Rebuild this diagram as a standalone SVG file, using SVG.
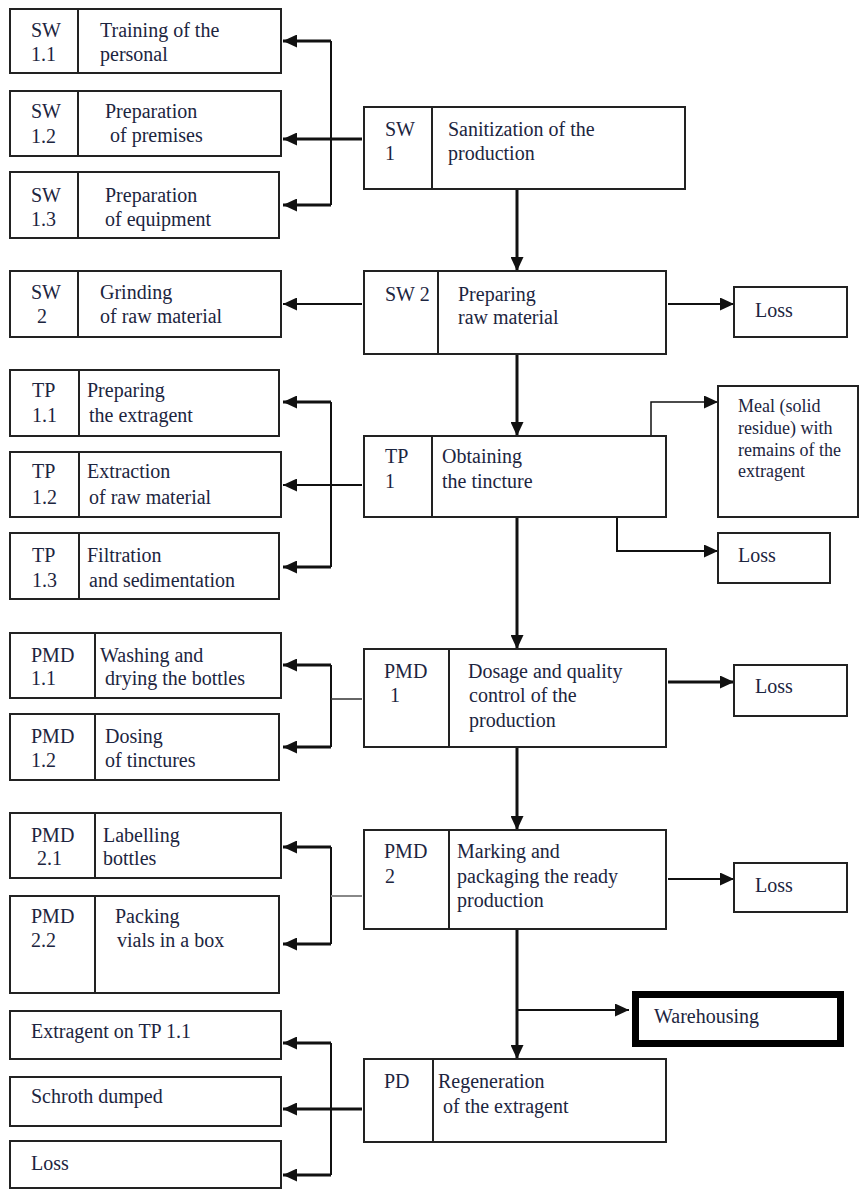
<svg xmlns="http://www.w3.org/2000/svg" width="862" height="1191" viewBox="0 0 862 1191">
<defs>
<marker id="ah" markerUnits="userSpaceOnUse" markerWidth="15" markerHeight="13" refX="14" refY="6.5" orient="auto">
<path d="M0,0 L14,6.5 L0,13 z" fill="#111"/>
</marker>
<style>
.box{fill:#fff;stroke:#222;stroke-width:2}
.div{stroke:#222;stroke-width:2}
.ware{fill:#fff;stroke:#000;stroke-width:7}
.sm{font-size:18px}
.c{fill:none;stroke:#111;stroke-width:2}
.a{fill:none;stroke:#111;stroke-width:3;marker-end:url(#ah)}
.t{fill:none;stroke:#111;stroke-width:2;marker-end:url(#ah)}
.thin{fill:none;stroke:#333;stroke-width:1.5}
.gray{fill:none;stroke:#888;stroke-width:2}
</style>
</defs>
<rect width="862" height="1191" fill="#fff"/>

<g id="connectors">
<path class="c" d="M331,41 V205"/>
<path class="a" d="M331,41 H283"/>
<path class="a" d="M331,139 H283"/>
<path class="a" d="M331,205 H283"/>
<path class="c" d="M362,139 H331" style="stroke-width:3"/>
<path class="a" d="M517,189 V271"/>
<path class="t" d="M362,304 H283"/>
<path class="t" d="M668,304 H734"/>
<path class="a" d="M517,354 V436"/>
<path class="c" d="M331,402 V567"/>
<path class="a" d="M331,402 H283"/>
<path class="t" d="M331,485 H283"/>
<path class="a" d="M331,567 H283"/>
<path class="c" d="M362,485 H331"/>
<path class="t" d="M651,436 V402 H718" style="stroke-width:1.5"/>
<path class="t" d="M617,517 V551 H718"/>
<path class="a" d="M517,517 V649"/>
<path class="c" d="M331,665 V747"/>
<path class="a" d="M331,665 H283"/>
<path class="a" d="M331,747 H283"/>
<path class="thin" d="M362,699 H331"/>
<path class="a" d="M668,682 H734"/>
<path class="a" d="M517,747 V830"/>
<path class="c" d="M331,847 V944"/>
<path class="a" d="M331,847 H283"/>
<path class="a" d="M331,944 H283"/>
<path class="gray" d="M362,896 H331"/>
<path class="t" d="M668,879 H734"/>
<path class="a" d="M517,929 V1059"/>
<path class="t" d="M517,1010 H629"/>
<path class="c" d="M331,1043 V1175"/>
<path class="a" d="M331,1043 H283"/>
<path class="a" d="M331,1109 H283"/>
<path class="a" d="M331,1175 H283"/>
<path class="c" d="M362,1109 H331" style="stroke-width:3"/>
</g>

<g font-family="'Liberation Serif', 'DejaVu Serif', 'Times New Roman', serif" font-size="20" fill="#1c2540">
<g id="sw11"><rect class="box" x="10" y="9" width="271" height="64"/><line class="div" x1="78" y1="9" x2="78" y2="73"/>
<text x="31" y="37">SW</text><text x="31" y="61">1.1</text><text x="100" y="37">Training of the</text><text x="100" y="61">personal</text></g>
<g id="sw12"><rect class="box" x="10" y="91" width="271" height="65"/><line class="div" x1="78" y1="91" x2="78" y2="156"/>
<text x="31" y="118">SW</text><text x="31" y="143">1.2</text><text x="105" y="118">Preparation</text><text x="110" y="142">of premises</text></g>
<g id="sw13"><rect class="box" x="10" y="172" width="269" height="66"/><line class="div" x1="78" y1="172" x2="78" y2="238"/>
<text x="31" y="202">SW</text><text x="31" y="226">1.3</text><text x="105" y="202">Preparation</text><text x="105" y="226">of equipment</text></g>
<g id="sw2sub"><rect class="box" x="10" y="271" width="271" height="66"/><line class="div" x1="78" y1="271" x2="78" y2="337"/>
<text x="31" y="299">SW</text><text x="37" y="323">2</text><text x="100" y="299">Grinding</text><text x="100" y="323">of raw material</text></g>

<g id="sw1"><rect class="box" x="364" y="107" width="321" height="82"/><line class="div" x1="432" y1="107" x2="432" y2="189"/>
<text x="385" y="136">SW</text><text x="385" y="160">1</text><text x="448" y="136">Sanitization of the</text><text x="448" y="160">production</text></g>
<g id="sw2"><rect class="box" x="364" y="271" width="302" height="83"/><line class="div" x1="438" y1="271" x2="438" y2="354"/>
<text x="385" y="301">SW 2</text><text x="458" y="301">Preparing</text><text x="458" y="324">raw material</text></g>
<g id="loss1"><rect class="box" x="734" y="287" width="113" height="50"/><text x="755" y="317">Loss</text></g>

<g id="tp11"><rect class="box" x="10" y="370" width="269" height="66"/><line class="div" x1="79" y1="370" x2="79" y2="436"/>
<text x="32" y="397">TP</text><text x="32" y="422">1.1</text><text x="87" y="397">Preparing</text><text x="89" y="422">the extragent</text></g>
<g id="tp12"><rect class="box" x="10" y="452" width="271" height="65"/><line class="div" x1="79" y1="452" x2="79" y2="517"/>
<text x="32" y="478">TP</text><text x="32" y="504">1.2</text><text x="87" y="478">Extraction</text><text x="89" y="504">of raw material</text></g>
<g id="tp13"><rect class="box" x="10" y="533" width="269" height="66"/><line class="div" x1="79" y1="533" x2="79" y2="599"/>
<text x="32" y="562">TP</text><text x="32" y="587">1.3</text><text x="87" y="562">Filtration</text><text x="89" y="587">and sedimentation</text></g>

<g id="tp1"><rect class="box" x="364" y="436" width="302" height="81"/><line class="div" x1="432" y1="436" x2="432" y2="517"/>
<text x="385" y="463">TP</text><text x="385" y="488">1</text><text x="442" y="463">Obtaining</text><text x="442" y="488">the tincture</text></g>
<g id="meal"><rect class="box" x="718" y="386" width="140" height="131"/>
<text class="sm" x="738" y="412">Meal (solid</text><text class="sm" x="738" y="434">residue) with</text><text class="sm" x="738" y="456">remains of the</text><text class="sm" x="738" y="477">extragent</text></g>
<g id="loss2"><rect class="box" x="718" y="533" width="112" height="50"/><text x="738" y="562">Loss</text></g>

<g id="pmd11"><rect class="box" x="10" y="633" width="271" height="65"/><line class="div" x1="95" y1="633" x2="95" y2="698"/>
<text x="31" y="662">PMD</text><text x="31" y="685">1.1</text><text x="100" y="662">Washing and</text><text x="105" y="685">drying the bottles</text></g>
<g id="pmd12"><rect class="box" x="10" y="714" width="269" height="66"/><line class="div" x1="95" y1="714" x2="95" y2="780"/>
<text x="31" y="743">PMD</text><text x="31" y="767">1.2</text><text x="105" y="743">Dosing</text><text x="105" y="767">of tinctures</text></g>
<g id="pmd1"><rect class="box" x="364" y="649" width="302" height="98"/><line class="div" x1="449" y1="649" x2="449" y2="747"/>
<text x="384" y="678">PMD</text><text x="390" y="702">1</text><text x="468" y="678">Dosage and quality</text><text x="469" y="702">control of the</text><text x="469" y="727">production</text></g>
<g id="loss3"><rect class="box" x="734" y="665" width="113" height="51"/><text x="755" y="693">Loss</text></g>

<g id="pmd21"><rect class="box" x="10" y="813" width="271" height="65"/><line class="div" x1="95" y1="813" x2="95" y2="878"/>
<text x="31" y="842">PMD</text><text x="37" y="865">2.1</text><text x="103" y="842">Labelling</text><text x="103" y="865">bottles</text></g>
<g id="pmd22"><rect class="box" x="10" y="896" width="269" height="97"/><line class="div" x1="95" y1="896" x2="95" y2="993"/>
<text x="31" y="923">PMD</text><text x="31" y="947">2.2</text><text x="115" y="923">Packing</text><text x="117" y="947">vials in a box</text></g>
<g id="pmd2"><rect class="box" x="364" y="830" width="302" height="99"/><line class="div" x1="449" y1="830" x2="449" y2="929"/>
<text x="384" y="858">PMD</text><text x="385" y="883">2</text><text x="457" y="858">Marking and</text><text x="457" y="883">packaging the ready</text><text x="457" y="907">production</text></g>
<g id="loss4"><rect class="box" x="734" y="863" width="113" height="49"/><text x="755" y="892">Loss</text></g>

<g id="warehousing"><rect class="ware" x="635.5" y="994.5" width="205" height="49"/><text x="654" y="1023">Warehousing</text></g>

<g id="extragent"><rect class="box" x="10" y="1011" width="271" height="48"/><text x="31" y="1038">Extragent on TP 1.1</text></g>
<g id="schroth"><rect class="box" x="10" y="1077" width="271" height="49"/><text x="31" y="1103">Schroth dumped</text></g>
<g id="lossB"><rect class="box" x="10" y="1141" width="271" height="47"/><text x="31" y="1170">Loss</text></g>
<g id="pd"><rect class="box" x="364" y="1059" width="302" height="83"/><line class="div" x1="433" y1="1059" x2="433" y2="1142"/>
<text x="384" y="1088">PD</text><text x="438" y="1088">Regeneration</text><text x="443" y="1113">of the extragent</text></g>
</g>
</svg>
